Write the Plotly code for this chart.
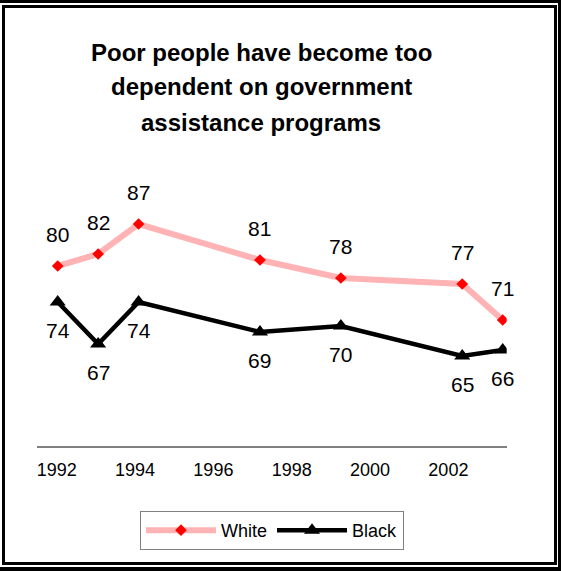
import plotly.graph_objects as go

# Survey results: % agreeing "Poor people have become too dependent on government assistance programs"
years = [1992, 1993, 1994, 1997, 1999, 2002, 2003]
white = [80, 82, 87, 81, 78, 77, 71]
black = [74, 67, 74, 69, 70, 65, 66]
year_labels = ["1992", "1994", "1996", "1998", "2000", "2002"]
title_lines = ["Poor people have become too", "dependent on government", "assistance programs"]

W, H = 561, 571
FONT = "Arial, 'Liberation Sans', sans-serif"


def px_x(p):
    return p / W


def px_y(p):
    return 1 - p / H


fig = go.Figure()

# the primary x axis only carries the six evenly spaced year labels
fig.add_trace(go.Scatter(
    x=list(range(len(year_labels))), y=[None] * len(year_labels), mode="lines",
    xaxis="x", yaxis="y", showlegend=False, hoverinfo="skip",
))

# data series live on the x2 (year) axis
fig.add_trace(go.Scatter(
    x=years, y=white, name="White", mode="lines+markers", xaxis="x2", yaxis="y",
    line=dict(color="#FFB3B5", width=6),
    marker=dict(symbol="diamond", size=9, color="#FF0000", line=dict(width=0)),
))
fig.add_trace(go.Scatter(
    x=years, y=black, name="Black", mode="lines+markers", xaxis="x2", yaxis="y",
    line=dict(color="#000000", width=4.5),
    marker=dict(symbol="triangle-up", size=14, color="#000000", line=dict(width=0)),
))

annotations = []
# value labels: White above its points, Black below
for xv, yv in zip(years, white):
    annotations.append(dict(x=xv, y=yv, xref="x2", yref="y", text=str(yv), showarrow=False,
                            yshift=32, font=dict(family=FONT, size=21, color="black")))
for xv, yv in zip(years, black):
    annotations.append(dict(x=xv, y=yv, xref="x2", yref="y", text=str(yv), showarrow=False,
                            yshift=-28, font=dict(family=FONT, size=21, color="black")))

# three-line bold title
for i, line in enumerate(title_lines):
    annotations.append(dict(x=px_x(261), y=px_y(52 + 35 * i), xref="paper", yref="paper",
                            xanchor="center", yanchor="middle", showarrow=False,
                            text="<b>" + line + "</b>",
                            font=dict(family=FONT, size=24, color="black")))

# double frame around the chart
bands = [
    (0, 0, 561, 3), (558, 0, 561, 571), (0, 567, 561, 571),      # outer
    (2, 5, 557, 8), (2, 5, 5, 565), (554, 5, 557, 565), (2, 562, 557, 565),  # inner
]
shapes = [dict(type="rect", xref="paper", yref="paper",
               x0=px_x(a), x1=px_x(c), y0=px_y(d), y1=px_y(b),
               fillcolor="black", line=dict(width=0), layer="above")
          for a, b, c, d in bands]

x_dom = [px_x(36.7), px_x(506.7)]

fig.update_layout(
    width=W, height=H,
    margin=dict(l=0, r=0, t=0, b=0),
    paper_bgcolor="white", plot_bgcolor="white",
    showlegend=True,
    legend=dict(orientation="h", x=px_x(140), y=px_y(511), xanchor="left", yanchor="top",
                bordercolor="#808080", borderwidth=1, bgcolor="white",
                font=dict(family=FONT, size=18, color="black"),
                itemwidth=70, tracegroupgap=0),
    xaxis=dict(domain=x_dom, anchor="y", side="bottom",
               range=[-0.2554, 5.7446], tickvals=list(range(len(year_labels))),
               ticktext=year_labels, showgrid=False, zeroline=False,
               showline=True, linecolor="#808080", linewidth=2, ticks="",
               ticklabelstandoff=6,
               tickfont=dict(family=FONT, size=18, color="black")),
    xaxis2=dict(domain=x_dom, overlaying="x", anchor="y", range=[1991.481, 2003.099],
                showticklabels=False, showgrid=False, zeroline=False, showline=False, ticks=""),
    yaxis=dict(domain=[px_y(446), px_y(146)], range=[50, 100], visible=False),
    annotations=annotations,
    shapes=shapes,
)

fig.write_html("out.html")
